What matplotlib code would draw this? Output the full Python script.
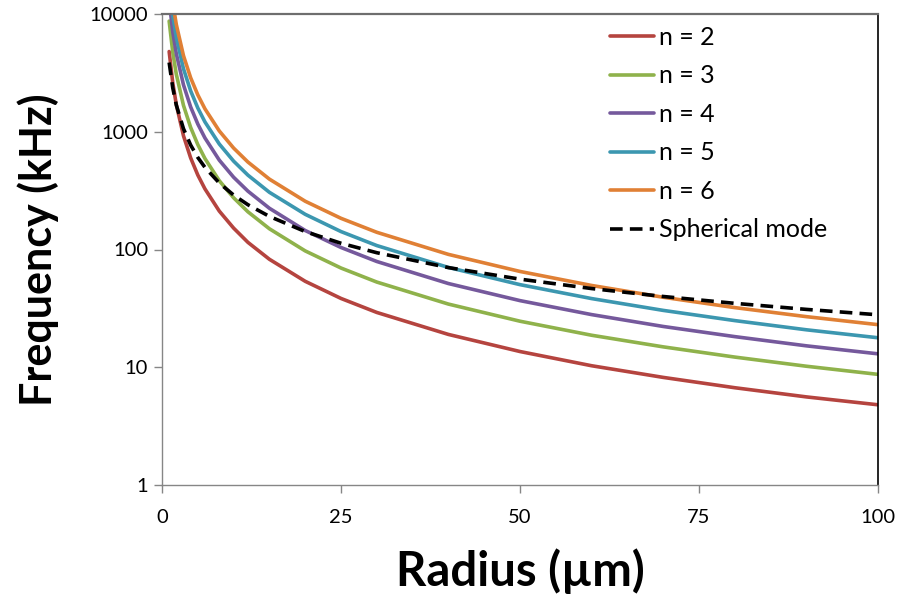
import matplotlib.pyplot as plt
from matplotlib.ticker import FixedLocator, NullLocator

plt.rcParams['font.family'] = ['Lato', 'DejaVu Sans']

# radius in micrometres (kHz)
radius = [1, 1.5, 2, 3, 4, 5, 6, 8, 10, 12, 15, 20, 25, 30, 40, 50, 60, 70, 80, 90, 100]
n2 = [4800, 2613, 1697, 924, 600, 429, 327, 212, 152, 115, 82.6, 53.7, 38.4, 29.2, 19.0, 13.6, 10.3, 8.2, 6.7, 5.6, 4.8]
n3 = [8700, 4735, 3076, 1674, 1088, 778, 592, 384, 275, 209, 150, 97.3, 69.6, 52.9, 34.4, 24.6, 18.7, 14.9, 12.2, 10.2, 8.7]
n4 = [13000, 7076, 4596, 2502, 1625, 1163, 885, 574, 411, 313, 224, 145, 104, 79.1, 51.4, 36.8, 28.0, 22.2, 18.2, 15.2, 13.0]
n5 = [17800, 9689, 6293, 3426, 2225, 1592, 1211, 787, 563, 428, 306, 199, 142, 108, 70.4, 50.3, 38.3, 30.4, 24.9, 20.8, 17.8]
n6 = [23000, 12519, 8132, 4426, 2875, 2057, 1565, 1016, 727, 553, 396, 257, 184, 140, 90.9, 65.1, 49.5, 39.3, 32.1, 26.9, 23.0]
spherical = [3872, 2363, 1684, 1061, 771, 605, 498, 367, 290, 240, 191, 142, 113, 93.9, 70.2, 56.0, 46.6, 39.9, 34.9, 31.0, 27.9]

x_ticks = [0, 25, 50, 75, 100]
y_ticks = [1, 10, 100, 1000, 10000]

fig = plt.figure(figsize=(9.06, 6.02), dpi=100)
ax = fig.add_axes([162 / 906, 1 - 485 / 602, (878 - 162) / 906, (485 - 14) / 602])

kw = dict(lw=2.6, solid_capstyle='round')
ax.plot(radius, n2, color='#B5443F', label='n = 2', **kw)
ax.plot(radius, n3, color='#8FB24B', label='n = 3', **kw)
ax.plot(radius, n4, color='#75599C', label='n = 4', **kw)
ax.plot(radius, n5, color='#3C97B0', label='n = 5', **kw)
ax.plot(radius, n6, color='#E08035', label='n = 6', **kw)
ax.plot(radius, spherical, color='black', lw=2.6, ls=(0, (3.5, 2)), label='Spherical mode')

ax.set_yscale('log')
ax.set_xlim(0, 100)
ax.set_ylim(1, 10000)
ax.xaxis.set_major_locator(FixedLocator(x_ticks))
ax.yaxis.set_major_locator(FixedLocator(y_ticks))
ax.yaxis.set_minor_locator(NullLocator())
ax.set_xticklabels([str(t) for t in x_ticks])
ax.set_yticklabels([str(t) for t in y_ticks])
ax.tick_params(axis='both', direction='out', length=6, width=1, color='#868686', labelsize=14.5)
ax.tick_params(axis='x', pad=11)
ax.tick_params(axis='y', pad=4)

for side in ['left', 'bottom']:
    ax.spines[side].set_color('#868686')
    ax.spines[side].set_linewidth(1)
ax.spines['top'].set_color('#6E6E6E')
ax.spines['top'].set_linewidth(1.6)
ax.spines['right'].set_color('black')
ax.spines['right'].set_linewidth(1.2)

ax.set_xlabel('Radius (µm)', fontsize=34, fontweight='bold', labelpad=16)
ax.set_ylabel('Frequency (kHz)', fontsize=31, fontweight='bold', labelpad=22)

ax.legend(loc='upper left', bbox_to_anchor=((610 - 162) / 716, 0.975), frameon=False, fontsize=18,
          handlelength=1.75, handletextpad=0.2, labelspacing=0.62, borderaxespad=0, borderpad=0)

fig.savefig('out.png', dpi=100)
